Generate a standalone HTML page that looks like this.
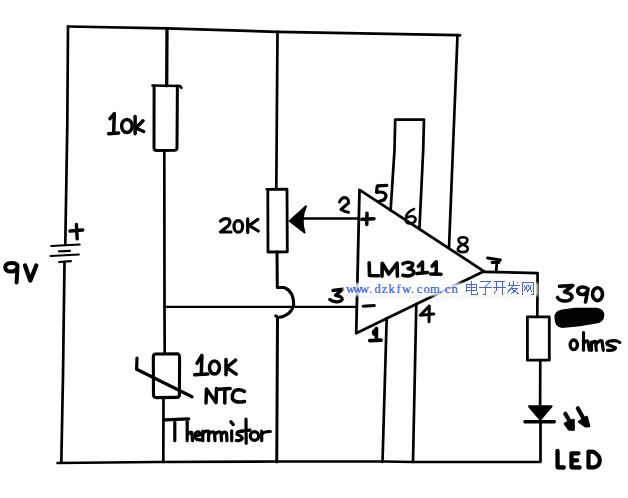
<!DOCTYPE html>
<html><head><meta charset="utf-8">
<style>
html,body{margin:0;padding:0;background:#fff;width:628px;height:498px;overflow:hidden}
svg{display:block;position:absolute;left:0;top:0}
.wm2{position:absolute;left:0;top:282px;font-family:"Liberation Serif",serif;font-size:12.5px;line-height:14px;color:#3454f4;-webkit-text-stroke:0.2px #3454f4;white-space:pre;}
.wm2 span{top:0}
</style></head><body>
<svg width="628" height="498" viewBox="0 0 628 498">
<g fill="none" stroke="#000" stroke-linecap="round" stroke-linejoin="round">
 <!-- main wires -->
 <g stroke-width="2.7">
  <path d="M68,26.5 L167,28.3 L277.5,31.9 L457.5,35.2 L460,35.4"/>
  <path d="M68,26.5 L67.3,125 L65.3,243.7"/>
  <path d="M64.5,262 L63,375 L61.3,462.5"/>
  <path d="M57.5,463 L157,462 L276.75,461.5 L384,461.5 L413,462 L540.5,462 L540.5,422"/>
  <!-- 10k resistor -->
  <path d="M167,28.3 L166.7,85.8" stroke-width="3.3"/>
  <path d="M152.5,85.5 L180,86 L181.3,87.8"/>
  <path d="M154.1,86 L154,148 Q154,150.6 157,150.6 L175,150.3 Q177,150 177,148 L177.4,86" stroke-width="3"/>
  <path d="M164.3,150.6 L164.5,307.3 L164.7,352.2"/>
  <path d="M164.5,306.9 L356.7,306.9" stroke-width="2.1"/>
  <!-- pot -->
  <path d="M277.5,31.9 L276.3,188"/>
  <path d="M266.8,189.3 L287,189.2 L287.3,251.8 L268,252 L267.8,189.6" stroke-width="2.8"/>
  <path d="M302,218.5 L359,218.5" stroke-width="2.4"/>
  <path d="M277,252 L277.3,287.5 L284.1,287.5 Q293.7,291 293.7,304.9 Q291,316 278,317.6 L275.7,315.8 M277.5,317.6 L276.75,462" stroke-width="3"/>
  <!-- thermistor -->
  <path d="M155,354 L178,353.8 Q179.6,354.5 179.6,357 L179.4,395 Q179.2,397.4 176.5,397.4 L156.5,397.6 Q153.5,397.5 153.5,395 L153.3,357 Q153.3,354 156,354" stroke-width="3.1"/>
  <path d="M163.5,398.2 L163.3,461.8"/>
  <path d="M137,358 L136.6,369.3 L192,396.8" stroke-width="3.2"/>
  <!-- op-amp -->
  <path d="M359.5,189.8 L484,271.3 L356.2,333.2 Z" stroke-width="2.8"/>
  <path d="M390.6,210.4 L394.5,150 L395.2,119.6 L424,119.6 L423.2,150 L419.5,227.5"/>
  <path d="M457.5,35.2 L449,247.5"/>
  <path d="M386.7,318 L382.5,462"/>
  <path d="M416.3,304 L413,462"/>
  <path d="M484,271.8 L537.6,273.1 L537.3,316.8"/>
  <!-- 390 resistor -->
  <path d="M527.4,316.8 L549.3,316.8 L549.3,360.2 L527.4,360.2 Z" stroke-width="2.8"/>
  <path d="M540.3,360.2 L540.1,406"/>
 </g>
 <!-- battery -->
 <g stroke-width="2.2">
  <path d="M51.3,246 L79.6,244.5"/>
  <path d="M59,251.3 L70,250.8"/>
  <path d="M50.6,256 L78.8,254.5"/>
  <path d="M59.2,262 L70.9,261.2"/>
 </g>
 <path d="M76.4,224.5 L77.2,238.9 M70,231 L82.8,230" stroke-width="3.4"/>
 <!-- LED -->
 <path d="M529,406.3 L551.5,406.3 L540.3,419.5 Z" fill="#000" stroke-width="2.2"/>
 <path d="M525,421.8 L554.3,421.8" stroke-width="3.6"/>
 <path d="M565.3,413.8 L569.8,421.5" stroke-width="4.2"/>
 <path d="M565,423.8 L573.5,420 L573.6,429.6 L569,429.3 Z" fill="#000" stroke-width="2.6"/>
 <path d="M577.8,408.3 L583.2,418" stroke-width="4.2"/>
 <path d="M579.2,421.8 L586.6,417 L589,426 L585.5,426.3 Z" fill="#000" stroke-width="2.6"/>
 <!-- arrow on pot -->
 <path d="M289.7,221 L306,206.3 Q300,219 304.6,232.5 Z" fill="#000" stroke-width="2"/>
 <!-- blob -->
 <path d="M554.5,318 Q554,310.5 562,309.5 L575,307.8 L597,307.8 Q604.3,309 604.3,315.5 Q604,322.5 596,323.5 L580,326.3 L562,328 Q554.5,327 554.5,318 Z" fill="#000" stroke="none"/>

 <!-- labels -->
 <g stroke-width="3.5">
  <!-- 9V -->
  <path d="M17.5,266 Q17,263 11.2,263.1 Q5.2,263.3 5.2,267.4 Q5.5,271.6 11.2,271.6 Q17,271.5 17.5,266 L16.6,282.5" stroke-width="4"/>
  <path d="M25,265.5 L30.3,280.5 L36.3,265.5" stroke-width="4.3"/>
  <!-- 10k -->
  <path d="M110,118.6 L114.3,113.6 L113.6,133 M108.6,133.7 L118.6,133"/>
  <ellipse cx="126.9" cy="126" rx="5.3" ry="6.5"/>
  <path d="M135.1,116.5 L135.1,133.7 M143,120.8 L135.8,128 L143.7,131.5"/>
  <!-- 20K -->
  <path d="M220.5,221 Q224,217.5 228.5,219 Q231.5,222 228,226 L220.5,232 L231,232" stroke-width="3.2"/>
  <ellipse cx="238.3" cy="226.4" rx="4.3" ry="5.8" stroke-width="3.2"/>
  <path d="M247.7,218.8 L247.7,232.5 M257.8,219.4 L249.2,225.5 L258.2,231" stroke-width="3.2"/>
  <!-- pins -->
  <path d="M339.5,202 Q341.5,197.5 345,197.5 Q349,198.5 348.5,203 L341,209.5 Q345,211.8 348.5,212.3" stroke-width="3"/>
  <path d="M386.8,185.3 L377.3,185.8 L376.5,192.3 Q385,191 386,195.5 Q386,200.5 379.5,201" stroke-width="3.2"/>
  <path d="M414,209 Q406,212 405.5,219 Q406,224 411,223.5 Q416,222.5 415.5,218.5 Q414,214.5 407,217.5" stroke-width="2.6"/>
  <path d="M463,244.5 Q457,242 459,238.5 Q463,236 467,238.5 Q469,242 463,244.5 Q457,247 458,250.5 Q462,253.5 467,251 Q470,247 463,244.5" stroke-width="2.6"/>
  <path d="M487.5,258 L500.5,260 M497,260 L496.2,271 M492,262.5 L499,262.5" stroke-width="2.8"/>
  <path d="M333,290.5 L343,289.2 L335.5,295.3 Q342.5,296.3 342.2,299.3 Q341,302 336,301.8 Q332,301.2 329.8,299.5" stroke-width="3.3"/>
  <path d="M373.5,332.5 L376.5,328.5 L376.3,339.5 M369.8,340.6 L381,340.2 M374,331 L374,334" stroke-width="3.7"/>
  <path d="M429.3,306 L420.2,315.3 L433.8,314 M429.3,306 L429,321.8" stroke-width="3"/>
  <path d="M367,213.2 L366.8,224.5 M361.8,219.3 L374,218.7" stroke-width="3.5"/>
  <path d="M363.2,306.2 L374.3,305.6" stroke-width="3"/>
  <!-- LM311 -->
  <path d="M369.2,262.8 L369.5,275.5 L378.5,275.8" stroke-width="3.6"/>
  <path d="M382,276.3 L382.2,263.2 L388.8,274 L397.1,263.2 L397.4,276.3" stroke-width="3.6"/>
  <path d="M402.8,263.8 Q408,260.8 412.5,263.5 Q414,267 408,268.6 Q414.5,270 414,273 Q411,277.5 402.8,275.3" stroke-width="3.5"/>
  <path d="M418.3,266.3 L422.5,262 L422.5,273 M417,273.6 L427.6,272.6" stroke-width="3.5"/>
  <path d="M432,266.3 L436.2,261.8 L436.2,274 M430.7,274 L441,274.3" stroke-width="3.5"/>
  <!-- 10K NTC -->
  <path d="M197,363.3 L201.9,355.4 L201.3,374.1 M194.6,374.7 L207.9,374.1"/>
  <ellipse cx="214.5" cy="367.5" rx="5" ry="6.5"/>
  <path d="M226,359.6 L226,374.7 M235.6,360.2 L226.6,367.5 L236.2,374.1"/>
  <path d="M206,403 L206.5,389 L216,402.5 L216.5,388.6"/>
  <path d="M218.7,389.2 L230.2,388.6 M224.8,389 L224.8,403"/>
  <path d="M244.5,391.5 Q240,388.5 235,390.5 Q231.5,394 232.5,399 Q235.5,403.5 244.5,401.5"/>
  <!-- 390 -->
  <path d="M559.5,286.3 L572.8,285.5 L564.5,292 Q572.5,293.5 572,297.5 Q570,301.5 564,301 Q559,300.5 557.5,297.5" stroke-width="3.6"/>
  <path d="M588,289 Q586,286.8 582,287 Q577.3,287.7 577.8,291.5 Q578.7,294.8 583,294.5 Q587.5,294 588,289 L585.5,302" stroke-width="3.6"/>
  <ellipse cx="597.5" cy="294.2" rx="5" ry="6.4" stroke-width="3.6"/>
  <!-- ohms -->
  <ellipse cx="573.8" cy="344.8" rx="3.6" ry="4.8" stroke-width="3.4"/>
  <path d="M583.5,332.5 L583.5,350.2 M583.8,343.5 Q586,339.8 588,341.5 L589.3,350.2" stroke-width="3.2"/>
  <path d="M591.5,342 L591.5,350.3 M591.5,344 Q593.5,340.5 595.5,341.5 L596.3,350.3 M596.3,344 Q599.5,339.8 602,341 L603.3,350.3" stroke-width="3.2"/>
  <path d="M619.8,342.5 Q616,339.8 609,341.2 Q605.5,342.5 607.5,344.5 L615.5,347.8 Q615,350.8 607.5,350.3" stroke-width="3.2"/>
  <!-- LED -->
  <path d="M557.5,451 L557.6,467.3 L563.8,467.5" stroke-width="4.3"/>
  <path d="M578.5,453.3 L571.5,453.3 L571.5,467.3 L579.6,467.5 M571.5,460.3 L577.2,460.3" stroke-width="4.3"/>
  <path d="M588.5,451.5 L588.5,467.3 L594.5,467.3 Q599.8,466 599.8,460 Q599.5,455.5 593.5,451.8 Z" stroke-width="4.2"/>
 </g>
 <!-- Thermistor handwriting -->
 <g stroke-width="3.2">
  <path d="M164.8,419.8 L188.7,418.8 M174.8,419.6 L174.8,440.7"/>
  <path d="M187.2,421.5 L187.2,440.7 M187.7,434.5 Q190,431.5 191.8,432.5 L192.5,440.7"/>
  <path d="M195,436 L200.3,435 Q200,431.5 197.5,431.8 Q194.6,433 194.8,437 Q196,440.5 201.3,439.8"/>
  <path d="M202.8,431.2 L202.8,440.7 M202.8,434.5 Q204,431.2 207,431.2"/>
  <path d="M208.6,431.2 L208.6,440.7 M208.6,434.5 Q211.5,430.5 214.5,432.5 L215,440.7 M215,434.5 Q218,430.5 221,432.5 L221.5,440.7 M221.5,434.5 Q224.5,430.5 226.5,433 L227,440.7"/>
  <path d="M231.7,430.8 L231.7,440.7 M230.9,421.8 L233.3,424.6"/>
  <path d="M242.3,431.5 Q236.5,430.5 237,434.5 Q242,436 242.3,438.5 Q240.5,441.3 236.3,440.5"/>
  <path d="M246,419 L246.2,443.3 M240.8,431.2 L250,430.2"/>
  <ellipse cx="254.5" cy="436" rx="4.2" ry="4.3"/>
  <path d="M261.7,431.2 L261.7,440.7 M261.7,434.5 Q264,431.2 270.3,431.5"/>
 </g>
</g>
</svg>
<div style="position:absolute;left:343px;top:283px;width:195px;height:13px;background:rgba(255,255,255,0.82);box-shadow:0 2px 2px rgba(0,0,0,0.07);filter:blur(1.2px)"></div>
<div class="wm2"><span style="position:absolute;left:346px;width:7px;text-align:center">w</span><span style="position:absolute;left:353px;width:7px;text-align:center">w</span><span style="position:absolute;left:360px;width:7px;text-align:center">w</span><span style="position:absolute;left:367px;width:7px;text-align:center">.</span><span style="position:absolute;left:374px;width:7px;text-align:center">d</span><span style="position:absolute;left:381px;width:7px;text-align:center">z</span><span style="position:absolute;left:388px;width:7px;text-align:center">k</span><span style="position:absolute;left:395px;width:7px;text-align:center">f</span><span style="position:absolute;left:402px;width:7px;text-align:center">w</span><span style="position:absolute;left:409px;width:7px;text-align:center">.</span><span style="position:absolute;left:416px;width:7px;text-align:center">c</span><span style="position:absolute;left:423px;width:7px;text-align:center">o</span><span style="position:absolute;left:430px;width:7px;text-align:center">m</span><span style="position:absolute;left:437px;width:7px;text-align:center">.</span><span style="position:absolute;left:444px;width:7px;text-align:center">c</span><span style="position:absolute;left:451px;width:7px;text-align:center">n</span></div>
<svg width="628" height="498" viewBox="0 0 628 498">
<g fill="none" stroke="#4262fa" stroke-width="1" shape-rendering="crispEdges">
  <!-- 电 -->
  <path d="M466.5,284.5 H476.5 V290.5 H466.5 Z M466.5,287.5 H476.5 M466.5,290.5 V291.5 M471.5,281 V294.5 H477.5 V292"/>
  <!-- 子 -->
  <path d="M480,281.5 H490.5 L485.5,286.5 V294.5 H483 M479,287.5 H492"/>
  <!-- 开 -->
  <path d="M494,281.5 H505 M493,287.5 H506 M502.5,281.5 V295 M496.5,281.5 V290 L493.5,294.5"/>
  <!-- 发 -->
  <path d="M509.5,282 V284.5 M508,285.5 H520 M513.5,281 V285.5 L507,293 M517.5,282.5 L518.5,283.5 M511.5,288.5 H517.5 L511,294 M512.5,289.5 L519.5,294.5"/>
  <!-- 网 -->
  <path d="M522.5,295 V282.5 H533.5 V294.5 H531 M524,285 L528,292 M527.5,285 L524,291 M528,285 L532,292 M531.5,285 L528,291"/>
</g>
</svg>
</body></html>
